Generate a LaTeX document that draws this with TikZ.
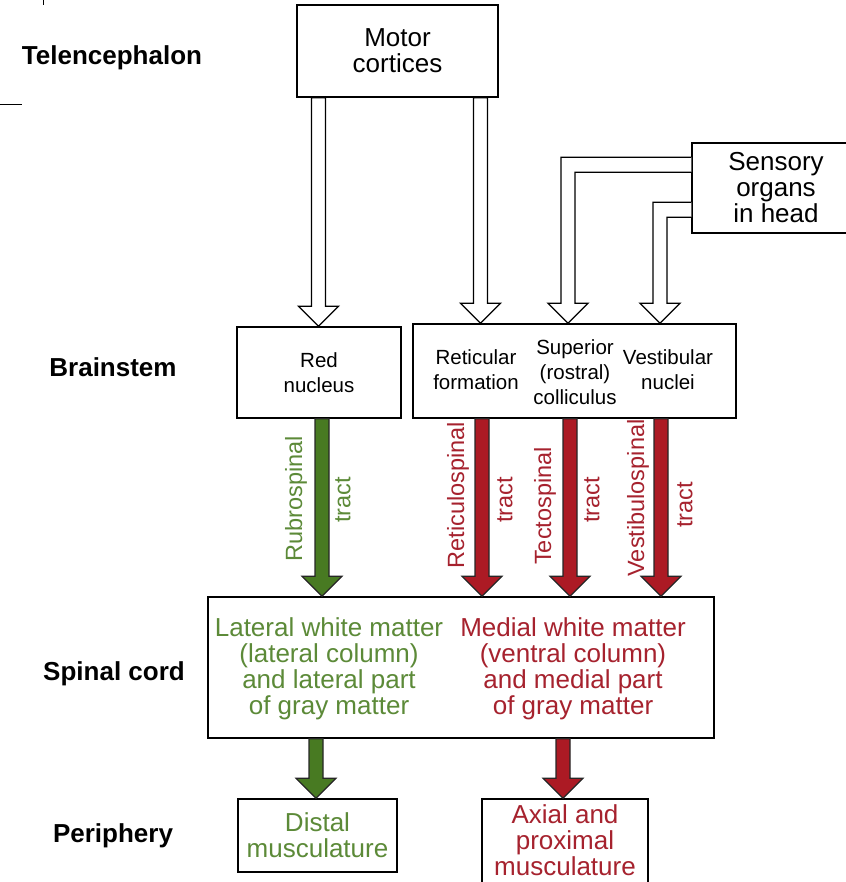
\documentclass[tikz,border=0pt]{standalone}
\usepackage{fontspec}
\setmainfont{Liberation Sans}
\usetikzlibrary{calc}

\definecolor{tractgreen}{RGB}{72,122,34}
\definecolor{tractred}{RGB}{172,26,36}
\definecolor{textgreen}{RGB}{92,138,56}
\definecolor{textred}{RGB}{166,34,46}

% block arrow between two points: [style]{start}{tip}
\newcommand{\blockarrow}[3][]{%
  \filldraw[#1] ($(#2)+(-7,0)$) -- ($(#3)+(-7,-20)$) -- ($(#3)+(-20,-20)$) -- (#3)
    -- ($(#3)+(20,-20)$) -- ($(#3)+(7,-20)$) -- ($(#2)+(7,0)$) -- cycle;}

\tikzset{
  box/.style={draw, line width=1.5pt, align=center, inner sep=0pt, fill=white},
  level/.style={font=\fontsize{26}{28}\selectfont\bfseries},
  bigtext/.style={align=center, font=\fontsize{26}{26}\selectfont},
  smalltext/.style={align=center, font=\fontsize{20.5}{25}\selectfont},
  tractlbl/.style={rotate=90, inner sep=0pt, font=\fontsize{23.5}{24}\selectfont},
  hollow/.style={draw, line width=1.3pt, fill=white},
  greentract/.style={draw=black!85, line width=1.1pt, fill=tractgreen},
  redtract/.style={draw=black!85, line width=1.1pt, fill=tractred},
}

\begin{document}
\begin{tikzpicture}[x=1pt, y=-1pt]
  \useasboundingbox (0,0) rectangle (845,882);

  % level names
  \node[level] (tel) at (112,58) {Telencephalon};
  \node[level] (bst) at (113,367) {Brainstem};
  \node[level] (spc) at (114,674) {Spinal cord};
  \node[level] (per) at (113,836) {Periphery};
  \draw[line width=1pt] (43,0) -- (43,5);
  \draw[line width=1pt] (0,105) -- (22,105);

  % boxes
  \node[box, bigtext, minimum width=201, minimum height=92] (mc) at (397.5,51) {Motor\\cortices};
  \node[box, bigtext, minimum width=168, minimum height=90] (so) at (776,188) {Sensory\\organs\\in head};
  \node[box, smalltext, minimum width=164, minimum height=91] (rn) at (319,372.5) {Red\\nucleus};
  \node[box, minimum width=323, minimum height=94] (bs) at (574.5,371) {};
  \node[smalltext] (rf) at (476,370) {Reticular\\formation};
  \node[smalltext] (sup) at (575,372) {Superior\\(rostral)\\colliculus};
  \node[smalltext] (vn) at (668,370) {Vestibular\\nuclei};
  \node[box, minimum width=506, minimum height=141] (sc) at (461,667.5) {};
  \node[bigtext, text=textgreen] (lat) at (329,668.5) {Lateral white matter\\(lateral column)\\and lateral part\\of gray matter};
  \node[bigtext, text=textred] (med) at (573,668.5) {Medial white matter\\(ventral column)\\and medial part\\of gray matter};
  \node[box, bigtext, text=textgreen, minimum width=159, minimum height=73] (dm) at (317.5,835.5) {Distal\\musculature};
  \node[box, minimum width=166, minimum height=92] (ax) at (565,845) {};
  \node[bigtext, text=textred] (axt) at (565,840) {Axial and\\proximal\\musculature};

  % arrow columns
  \coordinate (cA) at (318.5,0);
  \coordinate (cB) at (480.5,0);
  \coordinate (cC) at (568,0);
  \coordinate (cD) at (660,0);
  \coordinate (tA) at (322,0);
  \coordinate (tB) at (482,0);
  \coordinate (tC) at (570,0);
  \coordinate (tD) at (661,0);
  \coordinate (bA) at (316,0);
  \coordinate (bB) at (563,0);

  % input arrows
  \blockarrow[hollow]{cA |- mc.south}{cA |- rn.north}
  \blockarrow[hollow]{cB |- mc.south}{cB |- bs.north}
  \filldraw[hollow] ($(so.north west)+(0,15)$) -| ($(cC |- bs.north)+(-7,-20)$) -- ++(-13,0)
    -- (cC |- bs.north) -- ++(20,-20) -- ++(-13,0) |- ($(so.north west)+(0,30)$);
  \filldraw[hollow] ($(so.north west)+(0,60)$) -| ($(cD |- bs.north)+(-7,-20)$) -- ++(-13,0)
    -- (cD |- bs.north) -- ++(20,-20) -- ++(-13,0) |- ($(so.north west)+(0,75)$);

  % descending tracts
  \blockarrow[greentract]{tA |- rn.south}{tA |- sc.north}
  \blockarrow[redtract]{tB |- bs.south}{tB |- sc.north}
  \blockarrow[redtract]{tC |- bs.south}{tC |- sc.north}
  \blockarrow[redtract]{tD |- bs.south}{tD |- sc.north}
  \node[tractlbl, text=textgreen] (rsp) at (296,499) {Rubrospinal};
  \node[tractlbl, text=textgreen] (rst) at (343,500) {tract};
  \node[tractlbl, text=textred] (ret) at (458,495) {Reticulospinal};
  \node[tractlbl, text=textred] (rett) at (505,500) {tract};
  \node[tractlbl, text=textred] (tec) at (545,506) {Tectospinal};
  \node[tractlbl, text=textred] (tect) at (592,500) {tract};
  \node[tractlbl, text=textred] (ves) at (638,498) {Vestibulospinal};
  \node[tractlbl, text=textred] (vest) at (685,505) {tract};

  % to the muscles
  \blockarrow[greentract]{bA |- sc.south}{bA |- dm.north}
  \blockarrow[redtract]{bB |- sc.south}{bB |- ax.north}
\end{tikzpicture}
\end{document}
